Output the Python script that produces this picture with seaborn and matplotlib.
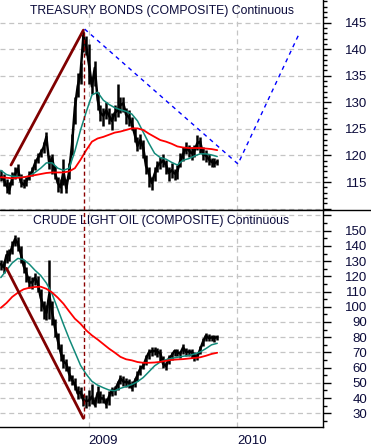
import pandas as pd
import matplotlib
matplotlib.use("Agg")
import matplotlib.pyplot as plt
import matplotlib.dates as mdates
from matplotlib.lines import Line2D
import seaborn as sns

# weekly bars, mid 2008 -> Nov 2009
weeks = pd.date_range("2008-05-30", periods=77, freq="W-FRI")
ma_weeks = weeks[::2]

bond_close = [116.0, 115.5, 114.3, 113.5, 115.7, 116.5, 117.5, 115.0, 114.5, 115.2,
              116.2, 117.0, 118.5, 119.5, 120.5, 121.5, 123.5, 118.5, 119.5, 116.8,
              114.8, 114.0, 117.0, 113.8, 117.0, 122.0, 129.0, 133.0, 135.5, 142.5,
              140.5, 137.0, 133.0, 136.5, 130.5, 128.0, 127.5, 128.5, 127.5, 126.5,
              128.0, 128.5, 129.5, 129.8, 127.7, 127.2, 126.0, 124.0, 121.8, 122.9,
              121.5, 118.0, 116.7, 114.8, 116.5, 118.0, 118.6, 119.0, 118.2, 116.7,
              117.2, 116.6, 117.0, 119.0, 120.2, 121.4, 121.0, 120.4, 120.9, 122.3,
              122.6, 120.2, 120.0, 119.3, 118.8, 118.5, 118.8]
bond_high = [117.2, 116.5, 115.5, 115.0, 116.8, 117.8, 118.3, 116.5, 115.5, 116.0,
             117.0, 117.8, 119.3, 120.5, 121.3, 122.5, 124.5, 120.0, 120.2, 118.0,
             116.0, 115.5, 119.3, 115.5, 118.5, 124.0, 131.0, 135.5, 137.5, 143.5,
             142.5, 141.0, 134.5, 137.8, 132.0, 129.5, 129.0, 130.0, 129.0, 128.0,
             129.5, 133.5, 131.0, 131.0, 129.0, 128.5, 127.2, 125.2, 123.5, 124.0,
             123.0, 120.0, 117.8, 116.0, 117.8, 119.0, 119.8, 120.2, 119.2, 117.8,
             118.5, 117.5, 118.2, 120.5, 121.5, 122.5, 122.0, 121.5, 122.0, 123.8,
             123.5, 121.5, 121.0, 120.3, 119.6, 119.5, 119.3]
bond_low = [115.2, 114.3, 113.0, 112.8, 114.5, 115.5, 116.2, 114.0, 113.8, 114.3,
            115.3, 116.2, 117.3, 118.5, 119.7, 120.5, 122.0, 117.5, 116.5, 115.5,
            113.2, 113.0, 114.5, 113.0, 115.5, 120.0, 126.0, 131.0, 133.5, 139.5,
            139.0, 133.5, 131.5, 133.0, 128.5, 126.5, 125.5, 126.8, 126.0, 124.8,
            126.5, 127.2, 128.0, 128.2, 126.0, 125.5, 124.8, 122.5, 120.8, 121.2,
            119.5, 116.5, 114.0, 113.5, 115.2, 116.8, 117.5, 117.8, 116.5, 115.2,
            115.8, 115.3, 115.5, 117.8, 119.0, 120.2, 119.8, 119.2, 119.8, 121.0,
            120.5, 119.2, 118.8, 118.2, 117.8, 117.8, 118.2]
bond_fast = [117.2, 116.4, 116.1, 116.0, 115.9, 116.1, 116.8, 117.6, 118.6, 118.6,
             117.6, 117.2, 117.6, 120.8, 124.8, 128.2, 131.4, 131.9, 130.4, 129.6,
             129.0, 128.6, 128.3, 127.8, 126.5, 124.4, 122.3, 120.4, 119.6, 119.3,
             118.7, 118.2, 119.1, 119.4, 119.9, 120.3, 120.3, 120.1, 119.8]
bond_slow = [115.9, 115.8, 115.7, 115.8, 115.9, 116.1, 116.3, 116.5, 116.7, 116.8,
             116.8, 116.8, 117.0, 117.6, 119.2, 121.0, 122.6, 123.2, 123.5, 123.9,
             124.3, 124.5, 124.8, 125.1, 125.1, 124.8, 124.1, 123.5, 122.9, 122.6,
             122.2, 121.7, 121.5, 121.4, 121.4, 121.4, 121.3, 121.2, 121.0]

oil_close = [128.0, 126.0, 134.0, 134.0, 139.5, 144.5, 141.5, 135.0, 127.0, 122.0,
             116.0, 116.0, 119.0, 115.5, 106.0, 100.0, 96.0, 108.0, 96.5, 86.5,
             78.0, 70.0, 64.0, 62.5, 56.0, 52.0, 49.0, 43.0, 44.0, 38.5,
             38.0, 38.5, 41.0, 35.5, 43.5, 39.8, 39.8, 36.0, 41.0, 45.0,
             45.0, 49.0, 52.9, 50.9, 50.5, 50.2, 46.8, 51.0, 55.0, 59.5,
             61.0, 66.0, 70.0, 70.8, 71.0, 70.4, 69.5, 62.5, 61.0, 66.0,
             68.0, 71.0, 70.0, 69.3, 73.2, 70.4, 70.4, 70.4, 67.6, 67.1,
             72.0, 77.0, 81.0, 79.5, 79.8, 79.6, 80.0]
oil_high = [131.0, 130.0, 137.5, 138.0, 143.0, 147.5, 146.0, 140.0, 131.0, 126.0,
            120.5, 119.5, 122.0, 120.0, 112.0, 104.0, 101.0, 130.5, 104.0, 92.0,
            83.0, 75.5, 69.0, 66.0, 61.0, 55.5, 53.0, 48.0, 47.5, 43.0,
            42.0, 45.0, 49.0, 41.0, 48.0, 44.5, 43.0, 40.0, 44.5, 47.5,
            48.0, 51.5, 55.0, 54.5, 53.0, 52.5, 51.0, 53.5, 57.5, 61.5,
            64.0, 68.5, 72.5, 73.5, 73.5, 73.0, 72.5, 67.5, 64.0, 68.5,
            70.5, 72.5, 72.5, 71.0, 75.5, 73.0, 72.5, 72.0, 70.5, 69.5,
            74.5, 79.5, 82.5, 82.0, 81.5, 81.5, 81.5]
oil_low = [124.0, 122.5, 129.0, 130.0, 134.5, 140.0, 136.5, 128.5, 122.0, 116.5,
           112.5, 111.5, 114.0, 110.0, 97.0, 92.0, 91.0, 92.0, 88.0, 80.0,
           72.0, 64.5, 59.5, 57.5, 51.5, 48.5, 45.0, 39.5, 40.0, 34.5,
           33.5, 35.0, 36.0, 34.0, 37.0, 37.0, 36.5, 33.5, 35.5, 41.5,
           42.0, 45.5, 49.5, 48.0, 47.5, 46.5, 44.5, 47.0, 51.5, 55.5,
           59.0, 62.0, 66.0, 67.5, 68.0, 67.0, 64.0, 59.5, 58.5, 62.5,
           65.0, 67.5, 67.5, 66.5, 69.0, 67.5, 67.5, 66.5, 64.5, 65.0,
           69.0, 74.5, 77.5, 77.5, 77.5, 77.0, 78.0]
oil_fast = [119.2, 124.0, 128.8, 131.8, 131.0, 128.0, 124.0, 120.6, 115.6, 108.5,
            98.5, 88.5, 79.0, 70.3, 61.5, 55.7, 51.0, 48.5, 46.8, 45.3,
            44.8, 46.4, 47.6, 48.9, 50.8, 53.5, 57.3, 61.2, 63.7, 65.2,
            66.1, 66.8, 67.5, 68.0, 69.0, 70.3, 72.5, 75.0, 76.0]
oil_slow = [99.3, 102.5, 106.5, 109.3, 111.5, 112.5, 113.0, 113.2, 111.8, 109.4,
            106.0, 102.0, 97.0, 92.2, 88.8, 84.5, 81.2, 78.5, 75.5, 72.5,
            69.9, 67.1, 65.5, 64.8, 63.7, 63.2, 63.2, 63.4, 63.8, 64.5,
            65.1, 65.4, 65.6, 66.0, 66.4, 66.8, 67.8, 69.0, 69.8]

# hand drawn annotations
bond_trend_dates = pd.to_datetime(["2008-06-24", "2008-12-19"])
bond_trend_vals = [118.2, 143.6]
bond_proj_dates = pd.to_datetime(["2008-12-22", "2010-01-03", "2010-06-01"])
bond_proj_vals = [143.8, 118.4, 142.7]
oil_trend_dates = pd.to_datetime(["2008-06-13", "2008-12-19"])
oil_trend_vals = [125.3, 26.7]
turn_date = pd.Timestamp("2008-12-20")

bond_title = "TREASURY BONDS (COMPOSITE) Continuous"
oil_title = "CRUDE LIGHT OIL (COMPOSITE) Continuous"

sns.set_style("white")
plt.rcParams["font.family"] = ["Liberation Sans", "DejaVu Sans"]

W, H = 371, 446
fig = plt.figure(figsize=(W / 100, H / 100), dpi=100)
ax1 = fig.add_axes([0, (H - 210) / H, 323 / W, 210 / H])
ax2 = fig.add_axes([0, (H - 427) / H, 323 / W, 217 / H])

grid_kw = dict(color="#c4c4c4", linestyle=(0, (4, 3)), linewidth=0.9)
txt_col = "#0a0a3a"


def draw_panel(ax, close, high, low, fast, slow):
    ax.vlines(weeks, low, high, color="black", linewidth=1.8, zorder=3)
    sns.lineplot(x=weeks, y=close, ax=ax, color="black", linewidth=1.8, zorder=3)
    sns.lineplot(x=ma_weeks, y=fast, ax=ax, color="#128a7a", linewidth=1.1, zorder=4)
    sns.lineplot(x=ma_weeks, y=slow, ax=ax, color="#ff0000", linewidth=1.3, zorder=4)


draw_panel(ax1, bond_close, bond_high, bond_low, bond_fast, bond_slow)
sns.lineplot(x=bond_trend_dates, y=bond_trend_vals, ax=ax1, color="#800000", linewidth=2.0, zorder=5)
sns.lineplot(x=bond_proj_dates, y=bond_proj_vals, ax=ax1, color="#0000ff",
             linewidth=1.0, linestyle=(0, (3, 3)), zorder=5)

draw_panel(ax2, oil_close, oil_high, oil_low, oil_fast, oil_slow)
sns.lineplot(x=oil_trend_dates, y=oil_trend_vals, ax=ax2, color="#800000", linewidth=2.0, zorder=5)

xmin, xmax = pd.Timestamp("2008-05-28"), pd.Timestamp("2010-07-31")
limits = {ax1: (109.73, 149.27), ax2: (21.0, 163.6)}
for ax, (lo, hi) in limits.items():
    ax.set_xlim(xmin, xmax)
    ax.set_ylim(lo, hi)
    ax.set_xlabel("")
    ax.set_ylabel("")
    for s in ["left", "top"]:
        ax.spines[s].set_visible(False)
    for s in ["right", "bottom"]:
        ax.spines[s].set_color("black")
        ax.spines[s].set_linewidth(1.0)
    ax.xaxis.set_major_locator(mdates.YearLocator())
    ax.xaxis.set_minor_locator(mdates.MonthLocator())
    ax.yaxis.tick_right()
    ax.tick_params(axis="y", which="major", direction="out", length=5.8, width=1,
                   colors="black", labelcolor=txt_col, labelsize=9.5, pad=26)
    ax.tick_params(axis="y", which="minor", direction="out", length=3, width=1, colors="black")
    ax.grid(True, which="major", **grid_kw)

# turning point marker
ax1.axvline(turn_date, ymin=0, ymax=(143.6 - 109.73) / (149.27 - 109.73),
            color="#8b0000", linestyle=(0, (3, 2)), linewidth=1.0, zorder=6)
ax2.axvline(turn_date, ymin=(26.7 - 21.0) / (163.6 - 21.0), ymax=1,
            color="#8b0000", linestyle=(0, (3, 2)), linewidth=1.0, zorder=6)

ax1.set_yticks(range(110, 150, 5))
ax1.set_yticks(range(110, 150), minor=True)
ax1.set_yticklabels([""] + [str(v) for v in range(115, 150, 5)])
ax2.set_yticks(range(30, 170, 10))
ax2.set_yticks(range(25, 165, 5), minor=True)
ax2.set_yticklabels([str(v) for v in range(30, 160, 10)] + [""])
for ax in (ax1, ax2):
    plt.setp(ax.get_yticklabels(), ha="right")

ax1.tick_params(axis="x", which="both", length=0, labelbottom=False)
ax2.xaxis.set_major_formatter(mdates.DateFormatter("%Y"))
ax2.tick_params(axis="x", which="major", direction="out", length=14, width=1,
                colors="black", labelcolor=txt_col, labelsize=9.5, pad=-8.5)
ax2.tick_params(axis="x", which="minor", direction="out", length=4, width=1, colors="black")
plt.setp(ax2.get_xticklabels(), ha="left")

ax1.text(0.5, 1 - 11 / 210, bond_title, transform=ax1.transAxes, ha="center",
         va="center", fontsize=8.8, color=txt_col)
ax2.text(0.5, 1 - 11 / 217, oil_title, transform=ax2.transAxes, ha="center",
         va="center", fontsize=8.8, color=txt_col)

# separator across the full width
fig.add_artist(Line2D([0, 1], [(H - 210) / H] * 2, transform=fig.transFigure,
                      color="black", linewidth=1.0))

fig.savefig("out.png", dpi=100)
